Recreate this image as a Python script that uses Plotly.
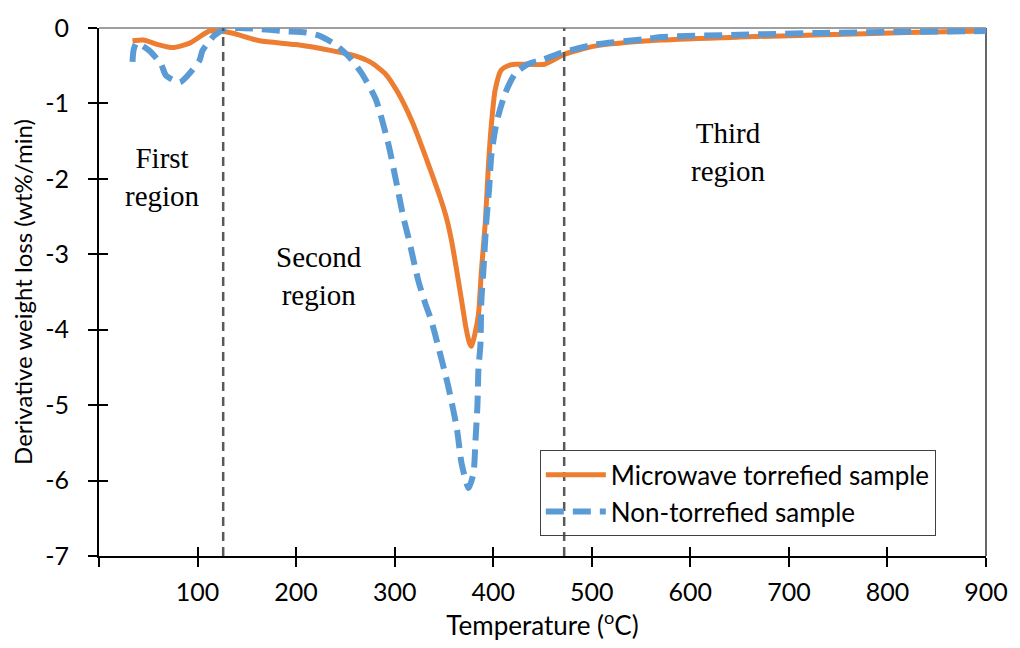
import plotly.graph_objects as go

# ---- data ----
temp_mw = [34, 45, 60, 75, 92, 112, 122, 136, 163, 200, 236, 260, 275, 290, 303, 318, 334, 347, 353,
           358, 363, 368, 372, 376, 378, 381, 385, 388, 392, 395, 398, 402, 408, 415, 422, 452, 472,
           503, 570, 650, 735, 820, 900]
dtg_mw = [-0.17, -0.16, -0.22, -0.26, -0.20, -0.04, -0.04, -0.07, -0.17, -0.22, -0.30, -0.37, -0.45,
          -0.60, -0.85, -1.25, -1.80, -2.28, -2.54, -2.84, -3.22, -3.62, -3.95, -4.18, -4.22, -4.08,
          -3.80, -3.22, -2.57, -1.85, -1.30, -0.82, -0.56, -0.50, -0.48, -0.48, -0.35, -0.24, -0.16,
          -0.12, -0.09, -0.06, -0.04]

temp_raw = [34, 35, 38, 51, 63, 68, 82, 90, 102, 105, 117, 127, 140, 160, 186, 210, 223, 240, 255,
            267, 281, 294, 301, 309, 314, 324, 331, 337, 344, 354, 363, 368, 375, 380, 382, 384, 385,
            387, 388, 390, 393, 396, 398, 402, 405, 412, 422, 435, 450, 469, 503, 553, 570, 650, 735,
            820, 900]
dtg_raw = [-0.45, -0.30, -0.20, -0.30, -0.48, -0.63, -0.72, -0.63, -0.43, -0.30, -0.10, -0.02, 0.0,
           -0.01, -0.04, -0.06, -0.10, -0.22, -0.40, -0.61, -0.95, -1.56, -2.00, -2.52, -2.78, -3.35,
           -3.65, -3.87, -4.21, -4.73, -5.30, -5.78, -6.10, -5.90, -5.47, -5.00, -4.52, -4.20, -3.61,
           -3.22, -2.57, -2.10, -1.70, -1.35, -1.17, -0.87, -0.61, -0.48, -0.42, -0.33, -0.22, -0.15,
           -0.12, -0.09, -0.065, -0.05, -0.04]

series_names = ["Microwave torrefied sample", "Non-torrefied sample"]

x_tickvals = [0, 100, 200, 300, 400, 500, 600, 700, 800, 900]
x_ticktext = ["", "100", "200", "300", "400", "500", "600", "700", "800", "900"]
y_tickvals = [0, -1, -2, -3, -4, -5, -6, -7]
y_ticktext = ["0", "-1", "-2", "-3", "-4", "-5", "-6", "-7"]

region_bounds = [126, 472]
region_labels = ["First<br>region", "Second<br>region", "Third<br>region"]
region_label_x = [64, 223, 639]
region_label_y = [-1.97, -3.29, -1.64]

x_range = [0, 900]
y_range = [-7, 0]

ORANGE = "#ED7D31"
BLUE = "#5B9BD5"
SANS = "Lato"
SERIF = "Liberation Serif, Times New Roman, serif"

fig = go.Figure()
fig.add_trace(go.Scatter(x=temp_mw, y=dtg_mw, mode="lines", name=series_names[0],
                         line=dict(color=ORANGE, width=5, shape="spline", smoothing=0.6)))
fig.add_trace(go.Scatter(x=temp_raw, y=dtg_raw, mode="lines", name=series_names[1],
                         line=dict(color=BLUE, width=6, dash="18px,9px", shape="spline", smoothing=0.6)))
# invisible trace to activate overlay axes (inside tick marks)
fig.add_trace(go.Scatter(x=x_range, y=y_range, xaxis="x2", yaxis="y2", mode="lines",
                         line=dict(width=0), showlegend=False, hoverinfo="skip", opacity=0))

for xb in region_bounds:
    fig.add_shape(type="line", x0=xb, x1=xb, y0=y_range[0], y1=y_range[1], xref="x", yref="y",
                  line=dict(color="#595959", width=2.5, dash="9px,6px"), layer="above")

# frame: top gray line and right black line
fig.add_shape(type="line", x0=0, x1=1, y0=1, y1=1, xref="paper", yref="paper",
              line=dict(color="#7F7F7F", width=1.5), layer="below")
fig.add_shape(type="line", x0=1, x1=1, y0=0, y1=1, xref="paper", yref="paper",
              line=dict(color="#000000", width=1.2), layer="below")

for txt, xa, ya in zip(region_labels, region_label_x, region_label_y):
    fig.add_annotation(x=xa, y=ya, xref="x", yref="y", text=txt, showarrow=False,
                       font=dict(family=SERIF, size=29, color="#000000"),
                       align="center")

tick_common = dict(showgrid=False, zeroline=False, tickcolor="#000000", tickwidth=2, ticklen=9)

fig.update_layout(
    width=1020, height=648,
    margin=dict(l=99, r=30, t=20, b=91),
    plot_bgcolor="white", paper_bgcolor="white",
    xaxis=dict(range=x_range, tickvals=x_tickvals, ticktext=x_ticktext, ticks="outside",
               showline=True, linecolor="#000000", linewidth=2, ticklabelstandoff=4,
               tickfont=dict(family=SANS, size=25, color="#000000"),
               title=dict(text="Temperature (<sup>o</sup>C)",
                          font=dict(family=SANS, size=26, color="#000000"), standoff=12),
               **tick_common),
    yaxis=dict(range=y_range, tickvals=y_tickvals, ticktext=y_ticktext, ticks="outside",
               showline=True, linecolor="#000000", linewidth=2, ticklabelstandoff=14,
               tickfont=dict(family=SANS, size=25, color="#000000"),
               title=dict(text="Derivative weight loss (wt%/min)",
                          font=dict(family=SANS, size=24, color="#000000"), standoff=6),
               **tick_common),
    xaxis2=dict(range=x_range, overlaying="x", tickvals=x_tickvals, ticks="inside",
                showticklabels=False, showline=False, **tick_common),
    yaxis2=dict(range=y_range, overlaying="y", tickvals=y_tickvals, ticks="inside",
                showticklabels=False, showline=False, **tick_common),
    legend=dict(x=0.497, y=0.2, xanchor="left", yanchor="top",
                bgcolor="rgba(0,0,0,0)", bordercolor="#404040", borderwidth=1,
                font=dict(family=SANS, size=26, color="#000000"), tracegroupgap=0,
                itemwidth=60),
    showlegend=True,
)

fig.write_html("out.html")
